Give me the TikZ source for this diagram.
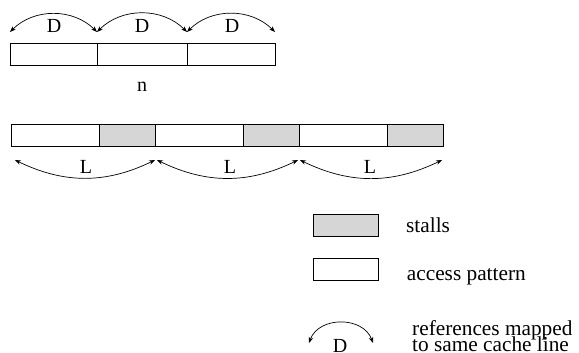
\documentclass[tikz,border=0pt]{standalone}
\usepackage{fontspec}
\setmainfont{Liberation Serif}
\usetikzlibrary{arrows.meta}
\definecolor{stallgray}{RGB}{214,214,214}
\tikzset{
  seg/.style={draw=black, line width=0.8pt, rectangle, inner sep=0pt, outer sep=0pt, anchor=north west, minimum height=22pt},
  wseg/.style={seg, fill=white},
  gseg/.style={seg, fill=stallgray},
  lbl/.style={inner sep=0pt, anchor=base, font=\fontsize{20}{22}\selectfont},
  txt/.style={inner sep=0pt, anchor=base west, font=\fontsize{21.3}{22}\selectfont},
  arc/.style={line width=0.7pt, {Stealth[length=6pt,width=4.5pt]}-{Stealth[length=6pt,width=4.5pt]}}
}
\begin{document}
\begin{tikzpicture}[x=1pt,y=-1pt]
\useasboundingbox (0,0) rectangle (579,353);
% top bar
\node[wseg, minimum width=87pt] (t1) at (10,43) {};
\node[wseg, minimum width=90pt] (t2) at (97,43) {};
\node[wseg, minimum width=88pt] (t3) at (187,43) {};
\coordinate (ta) at (10,32);
\coordinate (tb) at (97,32);
\coordinate (tc) at (187,32);
\coordinate (td) at (275,32);
\draw[arc] (ta) to[bend left=45] (tb);
\draw[arc] (tb) to[bend left=45] (tc);
\draw[arc] (tc) to[bend left=45] (td);
\node[lbl] (d1) at (54,32.3) {D};
\node[lbl] (d2) at (142,32.3) {D};
\node[lbl] (d3) at (232,32.3) {D};
\node[lbl] (n) at (142,91.7) {n};
% bottom bar
\node[wseg, minimum width=88pt] (b1) at (11,124) {};
\node[gseg, minimum width=56pt] (b2) at (99,124) {};
\node[wseg, minimum width=88pt] (b3) at (155,124) {};
\node[gseg, minimum width=56pt] (b4) at (243,124) {};
\node[wseg, minimum width=88pt] (b5) at (299,124) {};
\node[gseg, minimum width=56pt] (b6) at (387,124) {};
\coordinate (la) at (15,160);
\coordinate (lb) at (155,160);
\coordinate (lc) at (157,160);
\coordinate (ld) at (298,160);
\coordinate (le) at (300,160);
\coordinate (lf) at (442,160);
\draw[arc] (la) to[bend right=26] (lb);
\draw[arc] (lc) to[bend right=26] (ld);
\draw[arc] (le) to[bend right=26] (lf);
\node[lbl] (l1) at (86,173.3) {L};
\node[lbl] (l2) at (230,173.3) {L};
\node[lbl] (l3) at (370,173.3) {L};
% legend
\node[gseg, minimum width=65pt] (kg) at (313,214) {};
\node[txt] (ks) at (406,232) {stalls};
\node[wseg, minimum width=65pt] (kw) at (313,258) {};
\node[txt] (ka) at (406.7,280) {access pattern};
\coordinate (ga) at (309,343);
\coordinate (gb) at (373,343);
\draw[arc] (ga) to[out=70,in=110,looseness=1.15] (gb);
\node[lbl] (kd) at (340,352) {D};
\node[txt] (kr1) at (412,335.5) {references mapped};
\node[txt] (kr2) at (412,351.5) {to same cache line};
\end{tikzpicture}
\end{document}
